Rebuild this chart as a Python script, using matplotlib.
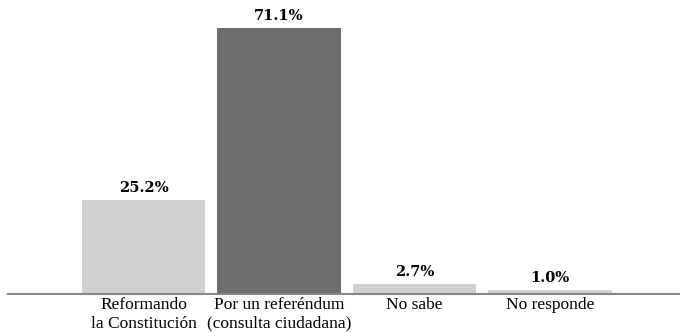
import matplotlib
matplotlib.use("Agg")
import matplotlib.pyplot as plt

categories = ["Reformando\nla Constitución", "Por un referéndum\n(consulta ciudadana)", "No sabe", "No responde"]
values = [25.2, 71.1, 2.7, 1.0]
labels = ["25.2%", "71.1%", "2.7%", "1.0%"]
colors = ["#d0d0d0", "#6e6e6e", "#d0d0d0", "#d0d0d0"]

fig = plt.figure(figsize=(6.8, 3.33), dpi=100)
ax = fig.add_axes([8/680, 39/333, 1 - 8/680, 294/333])
x = list(range(len(values)))
bars = ax.bar(x, values, width=0.91, color=colors, zorder=2)
for xi, v, lab in zip(x, values, labels):
    ax.annotate(lab, (xi, v), xytext=(0, 3.5), textcoords="offset points",
                ha="center", va="bottom", fontsize=10.5, fontweight="bold",
                family="DejaVu Serif")
ax.set_xlim(-1.0, 3.96)
ax.set_ylim(0, 78.6)
ax.set_xticks(x)
ax.set_xticklabels(categories, family="Liberation Serif", fontsize=12.5, linespacing=1.25)
ax.tick_params(axis="x", length=0, pad=2)
ax.set_yticks([])
for s in ["top", "right", "left"]:
    ax.spines[s].set_visible(False)
ax.spines["bottom"].set_color("#888888")
ax.spines["bottom"].set_linewidth(1.5)
ax.spines["bottom"].set_zorder(3)
fig.savefig("out.png", dpi=100)
